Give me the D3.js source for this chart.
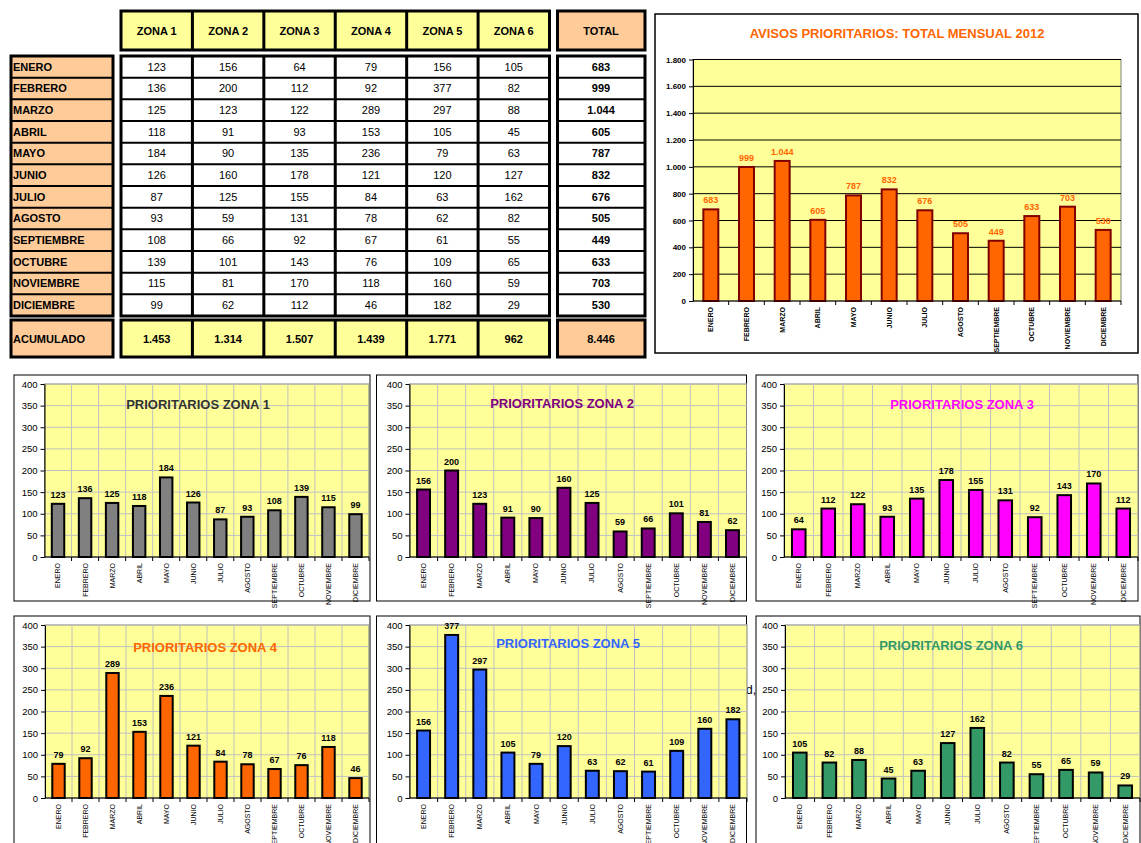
<!DOCTYPE html>
<html lang="es">
<head>
<meta charset="UTF-8">
<title>Avisos prioritarios 2012</title>
<style>
  body {
      margin: 0;
      padding: 0;
      background: #fff;
      font-family: 'Liberation Sans', Arial, sans-serif;
  }
  #chart svg { display: block; }
</style>
</head>
<body>
<div id="chart"></div>
<script src="https://cdn.jsdelivr.net/npm/d3@7"></script>
<script>
// ---- data (read from the 2012 sheet) ----
const months = ["ENERO", "FEBRERO", "MARZO", "ABRIL", "MAYO", "JUNIO", "JULIO",
                "AGOSTO", "SEPTIEMBRE", "OCTUBRE", "NOVIEMBRE", "DICIEMBRE"];
const zonas = ["ZONA 1", "ZONA 2", "ZONA 3", "ZONA 4", "ZONA 5", "ZONA 6"];

const zona1 = [123, 136, 125, 118, 184, 126, 87, 93, 108, 139, 115, 99];
const zona2 = [156, 200, 123, 91, 90, 160, 125, 59, 66, 101, 81, 62];
const zona3 = [64, 112, 122, 93, 135, 178, 155, 131, 92, 143, 170, 112];
const zona4 = [79, 92, 289, 153, 236, 121, 84, 78, 67, 76, 118, 46];
const zona5 = [156, 377, 297, 105, 79, 120, 63, 62, 61, 109, 160, 182];
const zona6 = [105, 82, 88, 45, 63, 127, 162, 82, 55, 65, 59, 29];

const totales = [683, 999, 1044, 605, 787, 832, 676, 505, 449, 633, 703, 530];
const acumulado = [1453, 1314, 1507, 1439, 1771, 962];
const totalAnual = 8446;

const totalTicks = [0, 200, 400, 600, 800, 1000, 1200, 1400, 1600, 1800];
const zonaTicks = [0, 50, 100, 150, 200, 250, 300, 350, 400];

// spanish number format: 1.044
const es = d3.formatLocale({ decimal: ",", thousands: ".", grouping: [3], currency: ["", " €"] });
const fmt = es.format(",d");

const FONT = "'Liberation Sans', Arial, sans-serif";
const W = 1141, H = 843;

const svg = d3.select("#chart").append("svg")
    .attr("width", W)
    .attr("height", H)
    .style("font-family", FONT);

// ================= table =================
const tbl = svg.append("g");
const colX = d3.scaleBand().domain(zonas).range([121, 549.5]);
const rowY = d3.scaleBand().domain(months).range([56, 316]);

function block(x, y, w, h, fill) {
    tbl.append("rect")
        .attr("x", x).attr("y", y).attr("width", w).attr("height", h)
        .attr("fill", fill).attr("stroke", "#000").attr("stroke-width", 3);
}
function vSeps(y0, y1) {
    tbl.append("g").selectAll("line")
        .data(zonas.slice(1))
        .join("line")
        .attr("x1", d => colX(d)).attr("x2", d => colX(d))
        .attr("y1", y0).attr("y2", y1)
        .attr("stroke", "#000").attr("stroke-width", 3);
}
function hSeps(x0, x1) {
    tbl.append("g").selectAll("line")
        .data(months.slice(1))
        .join("line")
        .attr("x1", x0).attr("x2", x1)
        .attr("y1", d => rowY(d)).attr("y2", d => rowY(d))
        .attr("stroke", "#000").attr("stroke-width", 2);
}
function cellText(x, y, txt, bold, anchor) {
    tbl.append("text")
        .attr("x", x).attr("y", y).attr("dy", "0.35em")
        .attr("text-anchor", anchor || "middle")
        .attr("font-size", 11)
        .attr("font-weight", bold ? "bold" : "normal")
        .attr("fill", "#000")
        .text(txt);
}

// header
block(121, 11, 428.5, 39, "#FFFF99");
vSeps(11, 50);
zonas.forEach(z => cellText(colX(z) + colX.bandwidth() / 2, 31, z, true));
block(557.5, 11, 87.5, 39, "#FFCC99");
cellText(601, 31, "TOTAL", true);

// month labels
block(11, 56, 102, 260, "#FFCC99");
hSeps(11, 113);
months.forEach(m => cellText(13, rowY(m) + rowY.bandwidth() / 2, m, true, "start"));

// values
block(121, 56, 428.5, 260, "#fff");
hSeps(121, 549.5);
vSeps(56, 316);
const zonaData = [zona1, zona2, zona3, zona4, zona5, zona6];
zonaData.forEach((vals, zi) => {
    vals.forEach((v, mi) => {
        cellText(colX(zonas[zi]) + colX.bandwidth() / 2, rowY(months[mi]) + rowY.bandwidth() / 2, fmt(v), false);
    });
});

// totals column
block(557.5, 56, 87.5, 260, "#fff");
hSeps(557.5, 645);
totales.forEach((v, mi) => cellText(601, rowY(months[mi]) + rowY.bandwidth() / 2, fmt(v), true));

// acumulado row
block(11, 320, 102, 37, "#FFCC99");
cellText(13, 339, "ACUMULADO", true, "start");
block(121, 320, 428.5, 37, "#FFFF99");
vSeps(320, 357);
acumulado.forEach((v, zi) => cellText(colX(zonas[zi]) + colX.bandwidth() / 2, 339, fmt(v), true));
block(557.5, 320, 87.5, 37, "#FFCC99");
cellText(601, 339, fmt(totalAnual), true);

// ================= bar charts =================
function barChart(cfg) {
    const g = svg.append("g");
    const p = cfg.plot;

    // chart frame
    g.append("rect")
        .attr("x", cfg.box[0]).attr("y", cfg.box[1])
        .attr("width", cfg.box[2]).attr("height", cfg.box[3])
        .attr("fill", "#fff").attr("stroke", "#000").attr("stroke-width", cfg.frameWidth || 1);

    const x = d3.scaleBand().domain(months).range([p.left, p.right]);
    const y = d3.scaleLinear().domain([0, cfg.max]).range([p.bottom, p.top]);

    // plot area
    g.append("rect")
        .attr("x", p.left).attr("y", p.top)
        .attr("width", p.right - p.left).attr("height", p.bottom - p.top)
        .attr("fill", "#FFFF99").attr("stroke", "#808080").attr("stroke-width", 1);

    // horizontal grid
    g.append("g")
        .selectAll("line")
        .data(cfg.ticks.slice(1))
        .join("line")
        .attr("x1", p.left).attr("x2", p.right)
        .attr("y1", d => y(d)).attr("y2", d => y(d))
        .attr("stroke", cfg.gridColor).attr("stroke-width", 1);

    // vertical grid (zone charts only)
    if (cfg.vGrid) {
        g.append("g")
            .selectAll("line")
            .data(months.slice(1))
            .join("line")
            .attr("x1", d => x(d)).attr("x2", d => x(d))
            .attr("y1", p.top).attr("y2", p.bottom)
            .attr("stroke", "#C0C0C0").attr("stroke-width", 1);
    }

    // title
    g.append("text")
        .attr("x", cfg.titlePos[0]).attr("y", cfg.titlePos[1]).attr("dy", "0.35em")
        .attr("text-anchor", "middle")
        .attr("font-size", 13).attr("font-weight", "bold")
        .attr("fill", cfg.titleColor)
        .text(cfg.title);

    // bars
    const bw = x.bandwidth() * cfg.barRatio;
    g.append("g")
        .selectAll("rect")
        .data(cfg.values)
        .join("rect")
        .attr("x", (d, i) => x(months[i]) + (x.bandwidth() - bw) / 2)
        .attr("y", d => y(d))
        .attr("width", bw)
        .attr("height", d => p.bottom - y(d))
        .attr("fill", cfg.color)
        .attr("stroke", cfg.barStroke).attr("stroke-width", 2);

    // value labels
    g.append("g")
        .selectAll("text")
        .data(cfg.values)
        .join("text")
        .attr("x", (d, i) => x(months[i]) + x.bandwidth() / 2)
        .attr("y", d => y(d) - 6)
        .attr("text-anchor", "middle")
        .attr("font-size", 9).attr("font-weight", "bold")
        .attr("fill", cfg.labelColor)
        .text(d => fmt(d));

    // y axis
    const yAxis = g.append("g")
        .attr("transform", `translate(${p.left},0)`)
        .call(d3.axisLeft(y).tickValues(cfg.ticks).tickSize(4).tickSizeOuter(0).tickPadding(3).tickFormat(fmt));
    yAxis.select(".domain").attr("stroke", "#000");
    yAxis.selectAll("text")
        .attr("font-family", FONT)
        .attr("font-size", cfg.yFont)
        .attr("font-weight", cfg.yBold ? "bold" : "normal")
        .attr("fill", "#000");

    // x axis: line, ticks between categories, rotated labels
    g.append("line")
        .attr("x1", p.left).attr("x2", p.right)
        .attr("y1", p.bottom).attr("y2", p.bottom)
        .attr("stroke", "#000").attr("stroke-width", 1.2);
    g.append("g")
        .selectAll("line")
        .data(months.slice(1).map(m => x(m)).concat([p.right]))
        .join("line")
        .attr("x1", d => d).attr("x2", d => d)
        .attr("y1", p.bottom).attr("y2", p.bottom + 4)
        .attr("stroke", "#000");
    g.append("g")
        .selectAll("text")
        .data(months)
        .join("text")
        .attr("transform", d => `translate(${x(d) + x.bandwidth() / 2},${p.bottom + 6}) rotate(-90)`)
        .attr("dy", "0.35em")
        .attr("text-anchor", "end")
        .attr("font-size", 7)
        .attr("font-weight", cfg.xBold ? "bold" : "normal")
        .attr("fill", "#000")
        .text(d => d);
}

// monthly total chart
barChart({
    values: totales, max: 1800, ticks: totalTicks,
    box: [655, 14, 483, 339], frameWidth: 1.5,
    plot: { left: 693, right: 1121, top: 59.5, bottom: 301 },
    title: "AVISOS PRIORITARIOS: TOTAL MENSUAL 2012", titlePos: [897, 33], titleColor: "#FF6600",
    color: "#FF6600", barStroke: "#800000", labelColor: "#FF6600", barRatio: 0.42,
    gridColor: "#000", vGrid: false, yFont: 8, yBold: true, xBold: true
});

// one chart per zone
const zoneCharts = [
    { values: zona1, title: "PRIORITARIOS ZONA 1", color: "#808080", titleColor: "#333333",
      box: [14, 375, 356, 226], plot: { left: 44.5, right: 369, top: 384, bottom: 557 }, titlePos: [198, 404] },
    { values: zona2, title: "PRIORITARIOS ZONA 2", color: "#800080", titleColor: "#800080",
      box: [376.5, 375, 370, 226], plot: { left: 409.5, right: 746.5, top: 384, bottom: 557 }, titlePos: [562, 403] },
    { values: zona3, title: "PRIORITARIOS ZONA 3", color: "#FF00FF", titleColor: "#FF00FF",
      box: [756, 375, 382, 226], plot: { left: 784, right: 1138, top: 384, bottom: 557 }, titlePos: [962, 404] },
    { values: zona4, title: "PRIORITARIOS ZONA 4", color: "#FF6600", titleColor: "#FF6600",
      box: [14, 616, 356, 240], plot: { left: 45, right: 369, top: 625, bottom: 798 }, titlePos: [205, 647] },
    { values: zona5, title: "PRIORITARIOS ZONA 5", color: "#3366FF", titleColor: "#3366FF",
      box: [376.5, 616, 370, 240], plot: { left: 409.5, right: 747, top: 625, bottom: 798 }, titlePos: [568, 643] },
    { values: zona6, title: "PRIORITARIOS ZONA 6", color: "#339966", titleColor: "#339966",
      box: [756, 616, 384, 240], plot: { left: 785, right: 1140, top: 625, bottom: 798 }, titlePos: [951, 645] }
];

// stray cell text visible between zone 5 and zone 6
svg.append("text")
    .attr("x", 746).attr("y", 694)
    .attr("font-size", 12).attr("fill", "#000")
    .text("d,");

zoneCharts.forEach(c => barChart(Object.assign({
    max: 400, ticks: zonaTicks, barStroke: "#000", labelColor: "#000", barRatio: 0.46,
    gridColor: "#C0C0C0", vGrid: true, yFont: 9.5, yBold: false, xBold: false
}, c)));
</script>
</body>
</html>
